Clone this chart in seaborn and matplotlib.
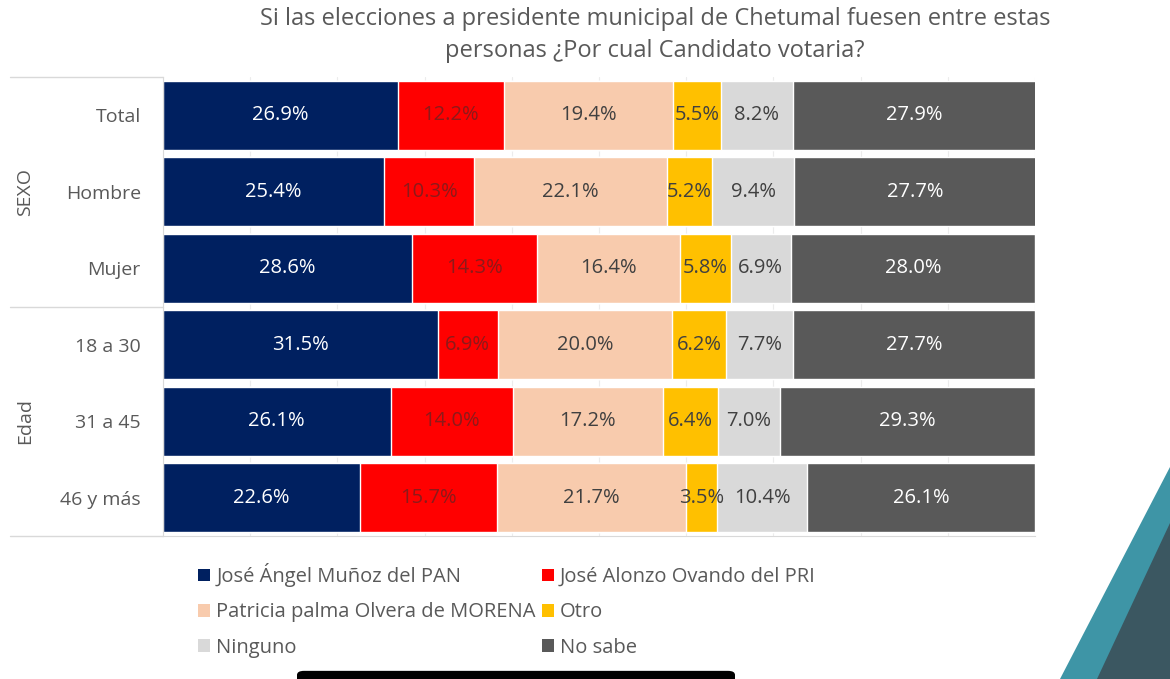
import pandas as pd
import numpy as np
import seaborn as sns
import matplotlib.pyplot as plt
from matplotlib.patches import Patch, Polygon, FancyBboxPatch
from matplotlib.lines import Line2D


# Datos
categorias = ['Total', 'Hombre', 'Mujer', '18 a 30', '31 a 45', '46 y más']
pan = [26.9, 25.4, 28.6, 31.5, 26.1, 22.6]
pri = [12.2, 10.3, 14.3, 6.9, 14.0, 15.7]
morena = [19.4, 22.1, 16.4, 20.0, 17.2, 21.7]
otro = [5.5, 5.2, 5.8, 6.2, 6.4, 3.5]
ninguno = [8.2, 9.4, 6.9, 7.7, 7.0, 10.4]
no_sabe = [27.9, 27.7, 28.0, 27.7, 29.3, 26.1]

series = ['José Ángel Muñoz del PAN', 'José Alonzo Ovando del PRI',
          'Patricia palma Olvera de MORENA', 'Otro', 'Ninguno', 'No sabe']
grupos = ['SEXO', 'Edad']

colores = ['#002060', '#ff0000', '#f8cbad', '#ffc000', '#d9d9d9', '#595959']
color_texto = ['white', '#8c1a1a', '#404040', '#404040', '#404040', 'white']

sns.set_style('white')
plt.rcParams['font.family'] = ['Open Sans', 'DejaVu Sans']

df = pd.DataFrame({'categoria': categorias})
valores = [pan, pri, morena, otro, ninguno, no_sabe]
acum = np.cumsum(np.array(valores), axis=0)

fig = plt.figure(figsize=(11.7, 6.79), dpi=100)
ax = fig.add_axes([163 / 1170, 1 - 536 / 679, 872 / 1170, 459 / 679])

# barras apiladas: se dibuja el acumulado de atrás hacia adelante
for i in reversed(range(len(series))):
    df['x'] = acum[i]
    sns.barplot(data=df, x='x', y='categoria', color=colores[i], width=0.9,
                saturation=1, orient='h', ax=ax, zorder=2)

# etiquetas de datos
for i in range(len(series)):
    for j, v in enumerate(valores[i]):
        ax.text(acum[i][j] - v / 2, j, f'{v:.1f}%', ha='center', va='center',
                fontsize=14.5, color=color_texto[i], zorder=5)

ax.set_xlim(0, 100)
ax.set_ylim(5.5, -0.5)
ax.set_xticks(np.arange(0, 101, 10))
ax.set_xticklabels([])
ax.xaxis.grid(True, color='#ececec', lw=0.8)
ax.set_axisbelow(True)
ax.tick_params(axis='x', length=4, color='#d0d0d0', direction='out')
ax.tick_params(axis='y', length=0, labelsize=14, labelcolor='#595959', pad=16)
ax.set_xlabel('')
ax.set_ylabel('')
for s in ['top', 'right']:
    ax.spines[s].set_visible(False)
ax.spines['left'].set_color('#d9d9d9')
ax.spines['bottom'].set_color('#d9d9d9')

# tabla de categorías a la izquierda
trans = ax.get_yaxis_transform()
x0 = (10 - 163) / 872
for yy in [-0.5, 2.5, 5.5]:
    ax.add_line(Line2D([x0, 0], [yy, yy], transform=trans, color='#d9d9d9',
                       lw=1, clip_on=False))
for k, g in enumerate(grupos):
    ax.text((25 - 163) / 872, 1 + 3 * k, g, transform=trans, rotation=90,
            ha='center', va='center', fontsize=14, color='#595959')

fig.suptitle('Si las elecciones a presidente municipal de Chetumal fuesen entre estas\n'
             'personas ¿Por cual Candidato votaria?',
             x=0.56, y=0.99, fontsize=17, color='#595959', linespacing=1.45)

# leyenda
handles = [Patch(facecolor=c, edgecolor='none') for c in colores]
orden = [0, 2, 4, 1, 3, 5]
fig.legend([handles[i] for i in orden], [series[i] for i in orden], ncol=2,
           loc='upper left', bbox_to_anchor=(190 / 1170, 1 - 555 / 679),
           frameon=False, fontsize=14.5, labelcolor='#595959',
           handlelength=0.6, handleheight=0.6, handletextpad=0.3,
           columnspacing=0.3, labelspacing=0.76, borderaxespad=0)

# decoración inferior derecha
W, H = 1170, 679
fig.add_artist(Polygon([(1060 / W, 0), (1170 / W, 1 - 467 / H), (1, 0)],
                       closed=True, transform=fig.transFigure,
                       facecolor='#3e95a6', edgecolor='none'))
fig.add_artist(Polygon([(1097 / W, 0), (1170 / W, 1 - 523 / H), (1, 0)],
                       closed=True, transform=fig.transFigure,
                       facecolor='#3b5761', edgecolor='none'))
fig.add_artist(FancyBboxPatch((297 / W, -0.01), 438 / W, 0.022,
                              boxstyle='round,pad=0,rounding_size=0.006',
                              transform=fig.transFigure, facecolor='black',
                              edgecolor='none'))

fig.savefig('out.png', dpi=100)
